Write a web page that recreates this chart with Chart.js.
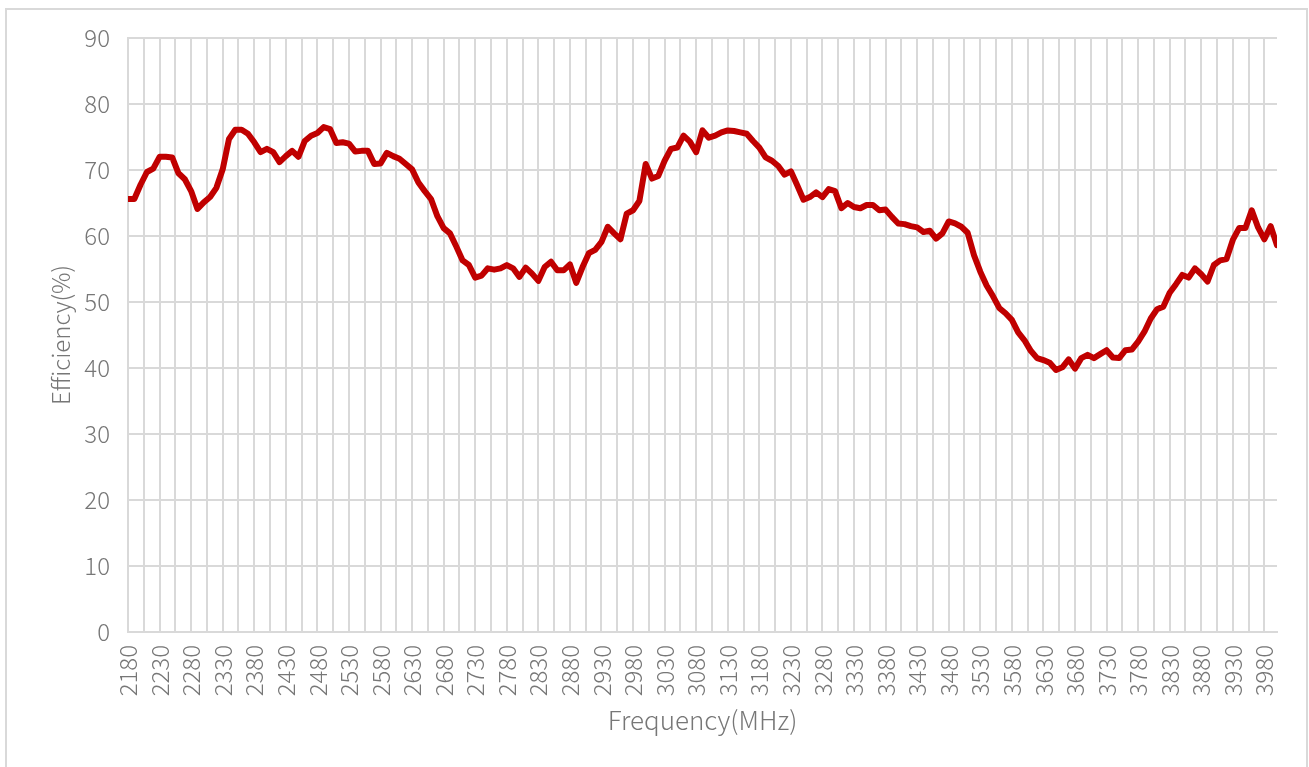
<!DOCTYPE html>
<html>
<head>
<meta charset="utf-8">
<script src="https://cdn.jsdelivr.net/npm/chart.js@4/dist/chart.umd.min.js"></script>
<style>
    body { margin: 0; background: #fff; }
    #frame {
        position: absolute; left: 5px; top: 8px; width: 1299px; height: 800px;
        border: 2px solid #d9d9d9;
    }
    #effChart { position: absolute; left: 0; top: 0; }
</style>
</head>
<body>
<div id="frame"></div>
<canvas id="effChart" width="1309" height="767"></canvas>
<script>
// frequency points (MHz), 10 MHz step
var freqs = [
    2180, 2190, 2200, 2210, 2220, 2230, 2240, 2250, 2260, 2270,
    2280, 2290, 2300, 2310, 2320, 2330, 2340, 2350, 2360, 2370,
    2380, 2390, 2400, 2410, 2420, 2430, 2440, 2450, 2460, 2470,
    2480, 2490, 2500, 2510, 2520, 2530, 2540, 2550, 2560, 2570,
    2580, 2590, 2600, 2610, 2620, 2630, 2640, 2650, 2660, 2670,
    2680, 2690, 2700, 2710, 2720, 2730, 2740, 2750, 2760, 2770,
    2780, 2790, 2800, 2810, 2820, 2830, 2840, 2850, 2860, 2870,
    2880, 2890, 2900, 2910, 2920, 2930, 2940, 2950, 2960, 2970,
    2980, 2990, 3000, 3010, 3020, 3030, 3040, 3050, 3060, 3070,
    3080, 3090, 3100, 3110, 3120, 3130, 3140, 3150, 3160, 3170,
    3180, 3190, 3200, 3210, 3220, 3230, 3240, 3250, 3260, 3270,
    3280, 3290, 3300, 3310, 3320, 3330, 3340, 3350, 3360, 3370,
    3380, 3390, 3400, 3410, 3420, 3430, 3440, 3450, 3460, 3470,
    3480, 3490, 3500, 3510, 3520, 3530, 3540, 3550, 3560, 3570,
    3580, 3590, 3600, 3610, 3620, 3630, 3640, 3650, 3660, 3670,
    3680, 3690, 3700, 3710, 3720, 3730, 3740, 3750, 3760, 3770,
    3780, 3790, 3800, 3810, 3820, 3830, 3840, 3850, 3860, 3870,
    3880, 3890, 3900, 3910, 3920, 3930, 3940, 3950, 3960, 3970,
    3980, 3990, 4000
];

// efficiency (%)
var efficiency = [
    65.6, 65.6, 67.8, 69.7, 70.2, 72.0, 72.0, 71.9, 69.5, 68.6,
    66.8, 64.1, 65.1, 65.9, 67.3, 70.1, 74.7, 76.1, 76.1, 75.5,
    74.2, 72.7, 73.2, 72.7, 71.2, 72.1, 72.9, 72.0, 74.4, 75.2,
    75.6, 76.5, 76.2, 74.1, 74.2, 74.0, 72.8, 72.9, 72.9, 70.9,
    71.0, 72.6, 72.1, 71.7, 70.9, 70.1, 68.1, 66.8, 65.6, 63.0,
    61.2, 60.4, 58.4, 56.3, 55.6, 53.7, 54.0, 55.1, 54.9, 55.1,
    55.6, 55.1, 53.8, 55.2, 54.3, 53.2, 55.3, 56.1, 54.8, 54.8,
    55.7, 52.9, 55.3, 57.4, 57.9, 59.1, 61.4, 60.4, 59.5, 63.4,
    63.9, 65.3, 70.9, 68.7, 69.1, 71.4, 73.2, 73.4, 75.2, 74.3,
    72.7, 76.0, 74.9, 75.2, 75.7, 76.0, 75.9, 75.7, 75.5, 74.4,
    73.4, 71.9, 71.4, 70.6, 69.3, 69.8, 67.7, 65.5, 65.9, 66.6,
    65.9, 67.1, 66.8, 64.2, 65.0, 64.4, 64.2, 64.7, 64.7, 63.9,
    64.0, 62.9, 61.9, 61.8, 61.5, 61.3, 60.6, 60.8, 59.6, 60.4,
    62.2, 61.9, 61.4, 60.5, 57.1, 54.6, 52.5, 50.9, 49.1, 48.3,
    47.3, 45.4, 44.2, 42.6, 41.5, 41.2, 40.8, 39.7, 40.1, 41.3,
    39.9, 41.5, 42.0, 41.5, 42.1, 42.7, 41.6, 41.5, 42.7, 42.8,
    44.0, 45.5, 47.5, 48.9, 49.3, 51.4, 52.7, 54.1, 53.7, 55.1,
    54.2, 53.1, 55.6, 56.3, 56.5, 59.4, 61.2, 61.2, 63.9, 61.3,
    59.5, 61.5, 58.6
];

// labelled frequencies on the x axis
var xTickLabels = [
    2180, 2230, 2280, 2330, 2380, 2430, 2480, 2530, 2580, 2630,
    2680, 2730, 2780, 2830, 2880, 2930, 2980, 3030, 3080, 3130,
    3180, 3230, 3280, 3330, 3380, 3430, 3480, 3530, 3580, 3630,
    3680, 3730, 3780, 3830, 3880, 3930, 3980
];
var yTicks = [0, 10, 20, 30, 40, 50, 60, 70, 80, 90];

var points = [];
for (var i = 0; i < freqs.length; i++) {
    points.push({ x: freqs[i], y: efficiency[i] });
}

// grid every 25 MHz: each labelled tick plus one unlabelled line between
var xGrid = [];
xTickLabels.forEach(function (v) {
    xGrid.push({ value: v });
    if (v + 25 < 4000) xGrid.push({ value: v + 25 });
});

var fontFamily = "'Noto Sans CJK SC', 'Noto Sans', sans-serif";
var gridColor = '#d9d9d9';
var textColor = '#777777';

var ctx = document.getElementById('effChart');
new Chart(ctx, {
    type: 'line',
    data: {
        datasets: [{
            data: points,
            borderColor: '#c00000',
            borderWidth: 6,
            borderJoinStyle: 'round',
            borderCapStyle: 'round',
            pointRadius: 0,
            fill: false,
            tension: 0
        }]
    },
    options: {
        responsive: false,
        animation: false,
        layout: {
            padding: { left: 46, top: 38, right: 32, bottom: 31 }
        },
        plugins: {
            legend: { display: false },
            title: { display: false },
            tooltip: { enabled: false }
        },
        scales: {
            x: {
                type: 'linear',
                min: 2180,
                max: 4000,
                afterBuildTicks: function (axis) {
                    axis.ticks = xGrid.slice();
                },
                afterFit: function (axis) {
                    axis.height = 104;
                },
                grid: { color: gridColor, lineWidth: 2, drawTicks: false },
                border: { color: gridColor, width: 2 },
                ticks: {
                    autoSkip: false,
                    minRotation: 90,
                    maxRotation: 90,
                    padding: 13,
                    color: textColor,
                    font: { family: fontFamily, size: 24, weight: 300 }
                    ,
                    callback: function (value) {
                        return xTickLabels.indexOf(value) >= 0 ? String(value) : '';
                    }
                },
                title: {
                    display: true,
                    text: 'Frequency(MHz)',
                    color: textColor,
                    padding: 0,
                    font: { family: fontFamily, size: 26, weight: 300 }
                }
            },
            y: {
                min: 0,
                max: 90,
                afterBuildTicks: function (axis) {
                    axis.ticks = yTicks.map(function (v) { return { value: v }; });
                },
                afterFit: function (axis) {
                    axis.width = 82;
                },
                grid: { color: gridColor, lineWidth: 2, drawTicks: false },
                border: { color: gridColor, width: 2 },
                ticks: {
                    padding: 18,
                    color: textColor,
                    font: { family: fontFamily, size: 24, weight: 300 }
                },
                title: {
                    display: true,
                    text: 'Efficiency(%)',
                    color: textColor,
                    padding: 0,
                    font: { family: fontFamily, size: 24, weight: 300 }
                }
            }
        }
    }
});
</script>
</body>
</html>
